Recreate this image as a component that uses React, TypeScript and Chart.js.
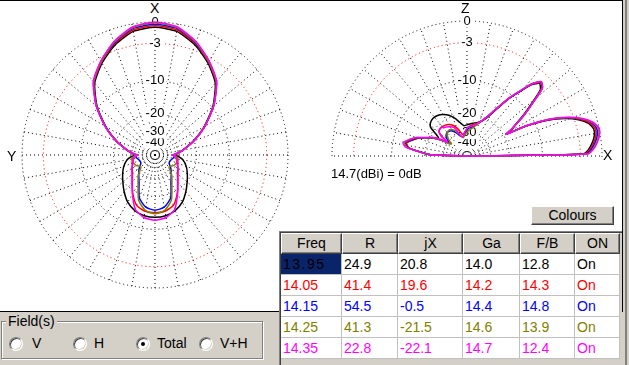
import React, { useEffect, useRef } from 'react';
import { Chart, registerables } from 'chart.js';

Chart.register(...registerables);

const FONT = '"Liberation Sans", Arial, sans-serif';

// ---- series (frequencies) ----
const FREQS = ['13.95', '14.05', '14.15', '14.25', '14.35'];
const COLORS = ['#000000', '#ff0000', '#0000ff', '#808000', '#ff00ff'];

// ---- table values ----
const R_VALUES = [24.9, 41.4, 54.5, 41.3, 22.8];
const JX_VALUES = [20.8, 19.6, -0.5, -21.5, -22.1];
const GA_VALUES = [14.0, 14.2, 14.4, 14.6, 14.7];
const FB_VALUES = [12.8, 14.3, 14.8, 13.9, 12.4];
const ON_VALUES = ['On', 'On', 'On', 'On', 'On'];
const TABLE_HEADERS = ['Freq', 'R', 'jX', 'Ga', 'F/B', 'ON'];

// ---- ring (tick) levels, dB, ARRL log scale ----
const RING_DB = [-40, -30, -20, -10, -3, 0];

// ---- azimuth pattern (dB relative to 14.7 dBi) ----
const AZ_ANGLES = [0, 10, 20, 30, 40, 50, 60, 70, 80, 85, 90, 95, 100, 110, 120, 130, 140, 150, 160, 170, 180,
  190, 200, 210, 220, 230, 240, 250, 260, 265, 270, 275, 280, 290, 300, 310, 320, 330, 340, 350];
const AZ_1395 = [-0.7, -1.0, -2.2, -3.9, -6.0, -9.7, -14.6, -20.3, -26.5, -29.5, -32.5, -29, -26.5, -23.8, -21.8, -19.8, -17.5, -15.3, -13.9, -13.2, -13.0,
  -13.2, -13.9, -15.3, -17.5, -19.8, -21.8, -23.8, -26.5, -29, -32.5, -29.5, -26.5, -20.3, -14.6, -9.7, -6.0, -3.9, -2.2, -1.0];
const AZ_1405 = [-0.5, -0.8, -2.0, -3.7, -5.8, -9.5, -14.4, -20.1, -26.5, -30, -33.5, -31, -30, -29.2, -27.8, -25.9, -22.8, -18.8, -15.6, -14.5, -14.3,
  -14.5, -15.6, -18.8, -22.8, -25.9, -27.8, -29.2, -30, -31, -33.5, -30, -26.5, -20.1, -14.4, -9.5, -5.8, -3.7, -2.0, -0.8];
const AZ_1415 = [-0.3, -0.6, -1.9, -3.6, -5.7, -9.5, -14.4, -20.1, -26.5, -30, -34, -33, -34, -36, -36, -32, -28.5, -24.5, -18.3, -15.8, -15.1,
  -15.8, -18.3, -24.5, -28.5, -32, -36, -36, -34, -33, -34, -30, -26.5, -20.1, -14.4, -9.5, -5.7, -3.6, -1.9, -0.6];
const AZ_1425 = [-0.1, -0.5, -1.8, -3.6, -5.7, -9.5, -14.4, -20.1, -26.5, -30, -33.5, -31, -30.5, -30.3, -31.5, -34, -28, -23.5, -17.5, -14.8, -14.0,
  -14.8, -17.5, -23.5, -28, -34, -31.5, -30.3, -30.5, -31, -33.5, -30, -26.5, -20.1, -14.4, -9.5, -5.7, -3.6, -1.8, -0.5];
const AZ_1435 = [0, -0.4, -1.7, -3.5, -5.6, -9.4, -14.3, -20, -26.5, -30, -35, -32, -31, -30, -27.5, -25.5, -22.5, -18.5, -14.3, -12.7, -12.2,
  -12.7, -14.3, -18.5, -22.5, -25.5, -27.5, -30, -31, -32, -35, -30, -26.5, -20, -14.3, -9.4, -5.6, -3.5, -1.7, -0.4];

// ---- elevation pattern (dB relative to 14.7 dBi) ----
const EL_ANGLES = [0, 1, 3, 6, 9, 12, 15, 18, 21, 24, 27, 29, 31, 33, 36, 39, 42, 45, 48, 51, 54, 58, 64, 72, 80, 88, 96,
  102, 108, 114, 120, 126, 132, 138, 142, 145, 148, 152, 156, 160, 164, 168, 172, 176, 178, 180];
const EL_1395 = [-99, -2.6, -1.8, -1.2, -0.8, -0.7, -1.2, -2.4, -4.4, -7.4, -12.5, -18, -16, -14.5, -11.3, -8.4, -5.4, -4.7, -5.9, -8.6, -11.2, -15.5, -20.5, -23, -24, -25, -25.5,
  -23.5, -21, -19, -17.8, -17, -16.8, -17.3, -18.5, -22, -24, -21.5, -18.8, -16.3, -14.7, -13.3, -14.2, -19.5, -22.5, -99];
const EL_1405 = [-99, -2.4, -1.6, -1.0, -0.6, -0.5, -1.0, -2.2, -4.2, -7.2, -12.3, -18.5, -16.2, -14.3, -11, -8.1, -5.1, -4.5, -5.8, -8.5, -11, -15.2, -20.2, -23.3, -25, -26.5, -30,
  -31, -27, -24, -22.5, -21.8, -21.5, -22, -24.5, -29, -25.5, -21.5, -19, -16.2, -14.5, -13.4, -14.3, -19.5, -22.5, -99];
const EL_1415 = [-99, -2.2, -1.4, -0.8, -0.4, -0.3, -0.8, -2.0, -4.0, -7.0, -12.2, -19, -16.4, -14.3, -10.9, -8.0, -5.0, -4.4, -5.7, -8.4, -10.9, -15.1, -20.1, -23.8, -26, -27.5, -31,
  -33, -32, -29, -26.5, -25.5, -25.5, -27, -30, -31, -26, -21.8, -19, -16, -14.2, -13, -14, -19.3, -22.3, -99];
const EL_1425 = [-99, -2.0, -1.2, -0.6, -0.2, -0.1, -0.7, -1.9, -3.9, -6.9, -12.1, -19, -16.5, -14.2, -10.8, -7.9, -4.9, -4.3, -5.6, -8.3, -10.8, -15, -20, -24, -27, -29, -32,
  -34, -31, -27.5, -25.5, -25, -26, -29, -33, -32, -26, -21.6, -18.9, -15.8, -14, -12.8, -13.8, -19.2, -22.2, -99];
const EL_1435 = [-99, -1.9, -1.1, -0.5, -0.1, 0, -0.6, -1.8, -3.8, -6.8, -12, -19, -16.5, -14.2, -10.8, -7.9, -4.9, -4.3, -5.6, -8.3, -10.8, -15, -20, -23.5, -25.5, -26.5, -30,
  -33, -31, -25.2, -23.8, -22.8, -21.7, -21.8, -24, -30, -25, -21, -18.6, -15.8, -14, -12.4, -13.5, -19, -22, -99];

const AZ_SERIES = [AZ_1395, AZ_1405, AZ_1415, AZ_1425, AZ_1435];
const EL_SERIES = [EL_1395, EL_1405, EL_1415, EL_1425, EL_1435];

// ARRL log scale: radius factor 0.89 per 2 dB
const toArrl = (db: number) => Math.pow(0.89, -db / 2);

const N = 360;
const LABELS = Array.from({ length: N }, (_, i) => String(i));

function ringData(angles: number[], values: number[], toIndex: (a: number) => number) {
  const out: (number | null)[] = new Array(N).fill(null);
  angles.forEach((a, i) => {
    out[toIndex(a)] = toArrl(values[i]);
  });
  return out;
}

const azIndex = (a: number) => (360 - a) % 360; // Y (90 deg) on the left
const elIndex = (e: number) => (450 - e) % 360; // 0 deg at right, 90 deg up

function makeChart(canvas: HTMLCanvasElement, series: number[][], angles: number[], toIndex: (a: number) => number, upperOnly: boolean) {
  const ticks = [0, ...RING_DB.map(toArrl)];
  return new Chart(canvas, {
    type: 'radar',
    data: {
      labels: LABELS,
      datasets: series.map((vals, i) => ({
        label: FREQS[i],
        data: ringData(angles, vals, toIndex),
        borderColor: COLORS[i],
        backgroundColor: 'transparent',
        borderWidth: 1.5,
        pointRadius: 0,
        pointHoverRadius: 0,
        fill: false,
        spanGaps: true,
        tension: 0.2,
        order: series.length - 1 - i,
      })),
    },
    options: {
      animation: false,
      responsive: false,
      events: [],
      layout: { padding: 0 },
      plugins: { legend: { display: false }, tooltip: { enabled: false } },
      scales: {
        r: {
          min: 0,
          max: 1,
          startAngle: 0,
          afterBuildTicks: (axis: any) => {
            axis.ticks = ticks.map((v) => ({ value: v }));
          },
          ticks: {
            display: true,
            callback: (_v: any, index: number) => (index === 0 ? '' : String(RING_DB[index - 1])),
            font: { size: 13, family: FONT },
            color: '#000',
            showLabelBackdrop: true,
            backdropColor: '#ffffff',
            backdropPadding: { top: 0, bottom: 0, left: 2, right: 2 },
          },
          grid: {
            circular: true,
            color: (ctx: any) => (RING_DB[ctx.index - 1] === -3 ? '#ff0000' : '#000000'),
            lineWidth: 1,
          },
          border: { dash: [1, 3] },
          angleLines: {
            display: true,
            color: '#000000',
            lineWidth: (ctx: any) => {
              const i = ctx.index;
              if (i % 10 !== 0) return 0;
              if (upperOnly && i > 90 && i < 270) return 0;
              return 1;
            },
            borderDash: [1, 3],
          },
          pointLabels: { display: false },
        },
      },
    } as any,
  });
}

const raised = {
  background: '#d4d0c8',
  borderTop: '1px solid #ffffff',
  borderLeft: '1px solid #ffffff',
  borderRight: '1px solid #404040',
  borderBottom: '1px solid #404040',
  boxShadow: 'inset -1px -1px 0 #808080',
  boxSizing: 'border-box' as const,
};

function Radio({ left, checked }: { left: number; checked?: boolean }) {
  return (
    <div
      style={{
        position: 'absolute',
        left,
        top: 337,
        width: 12,
        height: 12,
        borderRadius: '50%',
        background: '#fff',
        border: '1px solid',
        borderColor: '#808080 #ffffff #ffffff #808080',
        boxShadow: 'inset 1px 1px 0 #404040, inset -1px -1px 0 #d4d0c8',
      }}
    >
      {checked && (
        <div style={{ position: 'absolute', left: 4, top: 4, width: 4, height: 4, borderRadius: '50%', background: '#000' }} />
      )}
    </div>
  );
}

const COL_W = [61, 56, 65, 57, 55, 45];
const ROW_H = 21;

export default function App() {
  const leftRef = useRef<HTMLCanvasElement>(null);
  const rightRef = useRef<HTMLCanvasElement>(null);

  useEffect(() => {
    const c1 = makeChart(leftRef.current!, AZ_SERIES, AZ_ANGLES, azIndex, false);
    const c2 = makeChart(rightRef.current!, EL_SERIES, EL_ANGLES, elIndex, true);
    return () => {
      c1.destroy();
      c2.destroy();
    };
  }, []);

  const colLeft: number[] = [];
  COL_W.reduce((acc, w) => {
    colLeft.push(acc);
    return acc + w;
  }, 281);

  const rows = FREQS.map((f, i) => [f, R_VALUES[i].toFixed(1), JX_VALUES[i].toFixed(1), GA_VALUES[i].toFixed(1), FB_VALUES[i].toFixed(1), ON_VALUES[i]]);

  const txt = (extra: React.CSSProperties): React.CSSProperties => ({ position: 'absolute', whiteSpace: 'nowrap', ...extra });

  return (
    <div style={{ position: 'absolute', left: 0, top: 0, width: 629, height: 365, background: '#d4d0c8', overflow: 'hidden', fontFamily: FONT, fontSize: 13, color: '#000' }}>
      {/* white plot panel */}
      <div style={{ position: 'absolute', left: 0, top: 0, width: 623, height: 312, background: '#fff', borderTop: '1px solid #000', borderRight: '1px solid #000', borderBottom: '1px solid #000', boxSizing: 'border-box' }} />
      <div style={{ position: 'absolute', left: 625, top: 0, width: 2, height: 365, background: '#808080' }} />

      {/* azimuth plot */}
      <div style={{ position: 'absolute', left: 16, top: 16, width: 279, height: 279 }}>
        <canvas ref={leftRef} width={279} height={279} style={{ display: 'block', width: 279, height: 279 }} />
      </div>
      <div style={txt({ left: 150, top: 0, fontSize: 14, lineHeight: '16px' })}>X</div>
      <div style={txt({ left: 7, top: 148, fontSize: 14, lineHeight: '16px' })}>Y</div>

      {/* elevation plot (upper half) */}
      <div style={{ position: 'absolute', left: 326, top: 15, width: 283, height: 142, overflow: 'hidden' }}>
        <canvas ref={rightRef} width={283} height={283} style={{ display: 'block', width: 283, height: 283 }} />
      </div>
      <div style={txt({ left: 461, top: 0, fontSize: 14, lineHeight: '16px' })}>Z</div>
      <div style={txt({ left: 603, top: 147, fontSize: 14, lineHeight: '16px' })}>X</div>
      <div style={txt({ left: 331, top: 166, lineHeight: '15px' })}>14.7(dBi) = 0dB</div>

      {/* Colours button */}
      <div style={{ ...raised, position: 'absolute', left: 531, top: 206, width: 83, height: 19, textAlign: 'center', lineHeight: '17px', fontSize: 14 }}>Colours</div>

      {/* table */}
      <div style={{ position: 'absolute', left: 279, top: 231, width: 343, height: 134, background: '#d4d0c8', borderTop: '1px solid #808080', borderLeft: '1px solid #808080', boxShadow: 'inset 1px 1px 0 #404040', boxSizing: 'border-box' }} />
      {TABLE_HEADERS.map((h, c) => (
        <div key={'h' + c} style={{ ...raised, position: 'absolute', left: colLeft[c], top: 233, width: COL_W[c], height: ROW_H, textAlign: 'center', lineHeight: '19px', fontSize: 14 }}>{h}</div>
      ))}
      {rows.map((row, r) =>
        row.map((cell, c) => {
          const selected = r === 0 && c === 0;
          return (
            <div
              key={r + '-' + c}
              style={{
                position: 'absolute',
                left: colLeft[c],
                top: 254 + r * ROW_H,
                width: COL_W[c],
                height: ROW_H,
                boxSizing: 'border-box',
                background: selected ? '#0a246a' : '#ffffff',
                borderRight: '1px solid #c0c0c0',
                borderBottom: '1px solid #c0c0c0',
                paddingLeft: 2,
                lineHeight: '20px',
                fontSize: 14,
                color: COLORS[r],
                letterSpacing: selected ? '1.5px' : undefined,
                whiteSpace: 'nowrap',
              }}
            >
              {cell}
            </div>
          );
        })
      )}

      {/* Field(s) group */}
      <div style={{ position: 'absolute', left: 1, top: 321, width: 262, height: 38, border: '1px solid #808080', boxShadow: 'inset 1px 1px 0 #ffffff, 1px 1px 0 #ffffff', boxSizing: 'border-box' }} />
      <div style={txt({ left: 6, top: 314, padding: '0 2px', background: '#d4d0c8', lineHeight: '15px', fontSize: 14 })}>Field(s)</div>
      <Radio left={9} />
      <div style={txt({ left: 32, top: 335, lineHeight: '16px', fontSize: 14 })}>V</div>
      <Radio left={73} />
      <div style={txt({ left: 94, top: 335, lineHeight: '16px', fontSize: 14 })}>H</div>
      <Radio left={136} checked />
      <div style={txt({ left: 157, top: 335, lineHeight: '16px', fontSize: 14 })}>Total</div>
      <Radio left={199} />
      <div style={txt({ left: 220, top: 335, lineHeight: '16px', fontSize: 14 })}>V+H</div>
    </div>
  );
}
